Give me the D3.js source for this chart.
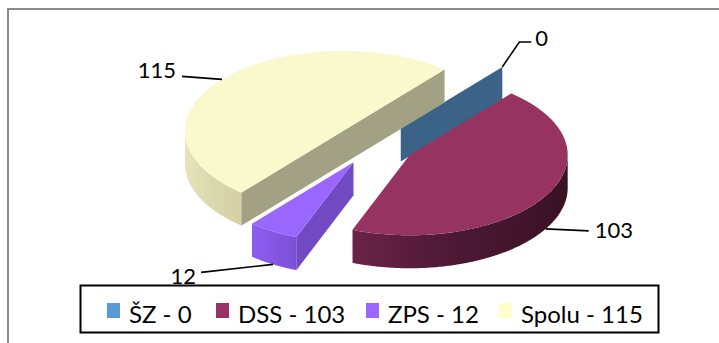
<!DOCTYPE html>
<html>
<head>
<meta charset="utf-8">
<script src="https://cdn.jsdelivr.net/npm/d3@7"></script>
<style>
  html, body { margin: 0; padding: 0; background: #fff; }
  svg { display: block; }
</style>
</head>
<body>
<svg id="chart" width="719" height="343"></svg>
<script>
// Data
const categories = ["ŠZ", "DSS", "ZPS", "Spolu"];
const values = [0, 103, 12, 115];

// Palette (legend / top faces, side faces)
const legendColors = ["#5B9BD5", "#993366", "#9966FF", "#FFFFCC"];
const topColors = ["#3A6387", "#963360", "#9966FF", "#FAF9CD"];
const cutColors = ["#3A6387", "#5A1C3A", "#7149C2", "#A2A183"];
const sideStops = [
  ["#3A6387", "#3A6387"],
  ["#6A2347", "#4B1833", "#3A1224"],
  ["#8D5DF2", "#7B50D6"],
  ["#E6E4BB", "#D9D7AC", "#D3D1A3"]
];

const svg = d3.select("#chart");
const defs = svg.append("defs");

// Chart frame
svg.append("rect")
  .attr("x", 8).attr("y", 9).attr("width", 800).attr("height", 500)
  .attr("fill", "none").attr("stroke", "#8a8a8a").attr("stroke-width", 2);

// 3D pie geometry
const R = 158, tilt = 0.508, depth = 33, explode = 41;
const center = [374.4, 144.4];
const startDeg = 40;
const a0 = startDeg * Math.PI / 180;

const pie = d3.pie().sort(null).value(d => d)
  .startAngle(a0).endAngle(a0 + 2 * Math.PI);
const arcs = pie(values).map((d, i) => {
  const m = (d.startAngle + d.endAngle) / 2;
  const c = [center[0] + explode * Math.sin(m), center[1] - explode * tilt * Math.cos(m)];
  return { ...d, i, mid: m, c };
});

const rim = (c, t, dy = 0) => [c[0] + R * Math.sin(t), c[1] - R * tilt * Math.cos(t) + dy];
const line = d3.line();
function arcPoints(c, t1, t2, dy = 0) {
  const n = Math.max(2, Math.ceil(Math.abs(t2 - t1) / 0.01));
  return d3.range(n + 1).map(j => rim(c, t1 + (t2 - t1) * j / n, dy));
}
// Part of [t1, t2] facing the viewer (front half of the ellipse)
function visibleRanges(t1, t2) {
  const out = [];
  for (let n = -1; n <= 2; n++) {
    const lo = Math.max(t1, Math.PI / 2 + 2 * Math.PI * n);
    const hi = Math.min(t2, 3 * Math.PI / 2 + 2 * Math.PI * n);
    if (hi > lo) out.push([lo, hi]);
  }
  return out;
}

const pieG = svg.append("g");
const order = arcs.slice().sort((a, b) => a.c[1] - b.c[1]);

order.forEach(d => {
  const g = pieG.append("g");
  const c = d.c, cb = [c[0], c[1] + depth];
  if (d.value === 0) {
    // zero-size slice: a single wall
    const p = rim(c, d.startAngle), pb = rim(c, d.startAngle, depth);
    g.append("path").attr("d", line([c, p, pb, cb]) + "Z").attr("fill", topColors[d.i]);
    return;
  }
  // outer curved side
  visibleRanges(d.startAngle, d.endAngle).forEach(([lo, hi], k) => {
    const top = arcPoints(c, lo, hi);
    const bot = arcPoints(c, hi, lo, depth);
    const xs = top.map(p => p[0]);
    const id = `side-${d.i}-${k}`;
    const grad = defs.append("linearGradient").attr("id", id)
      .attr("gradientUnits", "userSpaceOnUse")
      .attr("x1", d3.min(xs)).attr("x2", d3.max(xs)).attr("y1", 0).attr("y2", 0);
    const stops = sideStops[d.i];
    stops.forEach((col, s) => grad.append("stop")
      .attr("offset", s / (stops.length - 1)).attr("stop-color", col));
    g.append("path").attr("d", line(top.concat(bot)) + "Z").attr("fill", `url(#${id})`);
  });
  // cut faces (start face visible if sin<0, end face visible if sin>0)
  const faces = [];
  if (Math.sin(d.startAngle) < -1e-6) faces.push(d.startAngle);
  if (Math.sin(d.endAngle) > 1e-6) faces.push(d.endAngle);
  faces.forEach(t => {
    const p = rim(c, t), pb = rim(c, t, depth);
    g.append("path").attr("d", line([c, p, pb, cb]) + "Z").attr("fill", cutColors[d.i]);
  });
  // top face
  const topPts = [c].concat(arcPoints(c, d.startAngle, d.endAngle));
  g.append("path").attr("d", line(topPts) + "Z").attr("fill", topColors[d.i]);
});

// Data labels with leader lines
const labelFont = "Lato, 'Liberation Sans', sans-serif";
const labelLayout = {
  0: { pts: [[17, -25], [29, -25]], anchor: "start", tx: 33, ty: 4 },
  1: { pts: [[43, 2]], anchor: "start", tx: 49, ty: 7 },
  2: { pts: [[-72, 8]], anchor: "end", tx: -77, ty: 12 },
  3: { pts: [[-40, -3]], anchor: "end", tx: -46, ty: 2 }
};
const labelsG = svg.append("g");
arcs.forEach(d => {
  const front = Math.cos(d.mid) < 0;
  const anc = d.value === 0 ? rim(d.c, d.startAngle) : rim(d.c, d.mid, front ? depth : 0);
  const L = labelLayout[d.i];
  const pts = [anc].concat(L.pts.map(p => [anc[0] + p[0], anc[1] + p[1]]));
  labelsG.append("path").attr("d", line(pts)).attr("fill", "none")
    .attr("stroke", "#000").attr("stroke-width", 1.6);
  const last = pts[pts.length - 1];
  labelsG.append("text")
    .attr("x", anc[0] + L.tx).attr("y", last[1] + L.ty)
    .attr("text-anchor", L.anchor)
    .attr("font-family", labelFont).attr("font-size", 22).attr("fill", "#000")
    .text(String(values[d.i]));
});

// Legend
const legend = svg.append("g");
legend.append("rect").attr("x", 80.5).attr("y", 285.5).attr("width", 578).attr("height", 47)
  .attr("fill", "#fff").attr("stroke", "#000").attr("stroke-width", 2);
const legendX = [107, 216, 366, 499];
categories.forEach((cat, i) => {
  legend.append("rect").attr("x", legendX[i]).attr("y", 303).attr("width", 13).attr("height", 15)
    .attr("fill", legendColors[i]);
  legend.append("text").attr("x", legendX[i] + 22).attr("y", 323)
    .attr("font-family", labelFont).attr("font-size", 24).attr("fill", "#000")
    .text(`${cat} - ${values[i]}`);
});
</script>
</body>
</html>
